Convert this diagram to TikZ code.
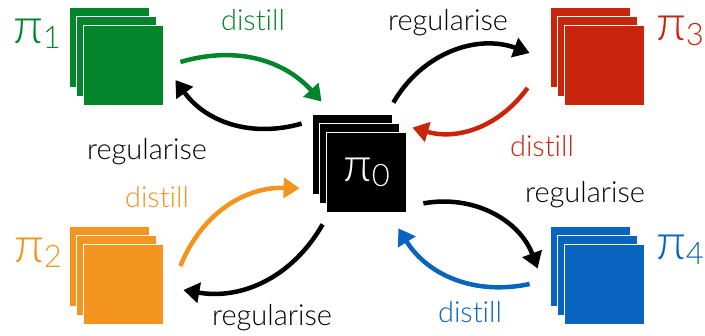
\documentclass[tikz,border=0pt]{standalone}
\usepackage{fontspec}
\setmainfont{Lato}[UprightFont=* Light,Ligatures=NoCommon]
\usetikzlibrary{arrows.meta,shapes}
\definecolor{pgreen}{RGB}{3,133,43}
\definecolor{pred}{RGB}{200,37,10}
\definecolor{porange}{RGB}{243,148,30}
\definecolor{pblue}{RGB}{8,100,190}
\tikzstyle{layer}=[rectangle,draw=white,line width=0.8pt,minimum width=80pt,minimum height=80pt,inner sep=0pt]
\tikzstyle{pilabel}=[font=\fontsize{50}{54}\selectfont,inner sep=0pt]
\tikzstyle{elabel}=[font=\fontsize{29}{32}\selectfont,inner sep=0pt]
\tikzstyle{dgraph}=[-{Triangle[length=16pt,width=20pt]}, line width=4.5pt]
\newcommand{\pisub}[1]{π\raisebox{-5pt}{\fontsize{31}{31}\selectfont #1}}

\begin{document}
\begin{tikzpicture}[x=1pt,y=1pt,dgraph]
\useasboundingbox (0,0) rectangle (705,336);
% centre policy
\node[layer,fill=black] (P0b) at (352.5,181.5) {};
\node[layer,fill=black] (P0m) at (359.5,172.5) {};
\node[layer,fill=black,text=white,font=\fontsize{48}{52}\selectfont] (P0) at (366.5,163.5) {\pisub{0}};
% task policies
\node[layer,fill=pgreen] (P1b) at (109,288.5) {};
\node[layer,fill=pgreen] (P1m) at (116,279.5) {};
\node[layer,fill=pgreen] (P1) at (123,270.5) {};
\node[layer,fill=pred] (P3b) at (590,288.5) {};
\node[layer,fill=pred] (P3m) at (597,279.5) {};
\node[layer,fill=pred] (P3) at (604,270.5) {};
\node[layer,fill=porange] (P2b) at (109,70) {};
\node[layer,fill=porange] (P2m) at (116,61) {};
\node[layer,fill=porange] (P2) at (123,52) {};
\node[layer,fill=pblue] (P4b) at (590,70) {};
\node[layer,fill=pblue] (P4m) at (597,61) {};
\node[layer,fill=pblue] (P4) at (604,52) {};
\node[pilabel,text=pgreen] (L1) at (37,302) {\pisub{1}};
\node[pilabel,text=pred] (L3) at (680,305) {\pisub{3}};
\node[pilabel,text=porange] (L2) at (38,83) {\pisub{2}};
\node[pilabel,text=pblue] (L4) at (680,86) {\pisub{4}};
% distill / regularise
\draw[pgreen] ([shift={(17,3.5)}]P1.east) to[bend left=32] ([shift={(9.5,12.5)}]P0b.north west);
\draw ([shift={(-10.5,-9.5)}]P0b.north west) to[bend left=35] ([shift={(12,-14.5)}]P1.east);
\draw ([shift={(0.5,11.5)}]P0b.north east) to[bend left=40] ([shift={(-20,-5.5)}]P3b.west);
\draw[pred] ([shift={(-22,0)}]P3b.south west) to[bend left=35] ([shift={(5.5,4.5)}]P0.north east);
\draw[porange] ([shift={(17,18)}]P2.east) to[bend left=35] ([shift={(-12.5,6.5)}]P0b.south west);
\draw ([shift={(-3.5,-11.5)}]P0.south west) to[bend left=35] ([shift={(20,-6)}]P2.east);
\draw ([shift={(16.5,9.5)}]P0.south east) to[bend left=40] ([shift={(-12,-2.5)}]P4b.west);
\draw[pblue] ([shift={(-34,0)}]P4.west) to[bend left=35] ([shift={(-8.5,-15.5)}]P0.south east);
\node[elabel,text=pgreen] (d1) at (253,316) {distill};
\node[elabel] (r1) at (147,184) {regularise};
\node[elabel] (r3) at (448,313) {regularise};
\node[elabel,text=pred] (d3) at (542,190) {distill};
\node[elabel,text=porange] (d2) at (157,139) {distill};
\node[elabel] (r2) at (272,18) {regularise};
\node[elabel] (r4) at (585,141) {regularise};
\node[elabel,text=pblue] (d4) at (470,24) {distill};
\end{tikzpicture}
\end{document}
